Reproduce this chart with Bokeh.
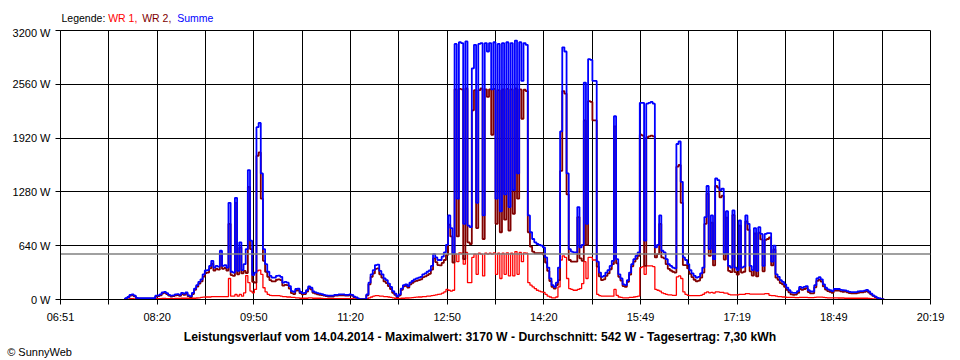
from bokeh.plotting import figure
from bokeh.layouts import column
from bokeh.models import Range1d, FixedTicker, CustomJSTickFormatter, Span, Title
from bokeh.core.properties import value
from bokeh.embed import file_html
from bokeh.resources import INLINE

# ---- data -----------------------------------------------------------
# sampling grid: every 2 minutes starting 07:50 (minutes since midnight)
t_start = 470
t_step = 2

# WR 1 (W)
wr1 = [
    0, 5, 5, 10, 10, 8, 5, 5, 5, 5,                      # 07:50
    5, 5, 5, 5, 5, 10, 10, 10, 12, 12,                   # 08:10
    10, 10, 10, 10, 12, 12, 12, 15, 15, 15,              # 08:30
    12, 12, 15, 15, 18, 20, 25, 28, 30, 30,              # 08:50
    30, 35, 35, 35, 35, 35, 35, 35, 35, 250,             # 09:10
    40, 40, 60, 40, 60, 40, 80, 285, 200, 100,           # 09:30
    80, 120, 340, 350, 300, 140, 90, 60, 50, 45,         # 09:50
    45, 45, 45, 40, 35, 35, 30, 30, 25, 25,              # 10:10
    20, 20, 15, 15, 15, 15, 20, 20, 15, 15,              # 10:30
    15, 15, 12, 10, 10, 10, 10, 10, 10, 10,              # 10:50
    10, 10, 10, 10, 10, 10, 10, 8, 5, 3,                 # 11:10
    2, 2, 2, 10, 20, 30, 40, 45, 45, 40,                 # 11:30
    40, 35, 35, 30, 25, 20, 15, 10, 10, 15,              # 11:50
    15, 18, 18, 20, 22, 25, 28, 30, 30, 35,              # 12:10
    35, 40, 40, 45, 50, 55, 60, 65, 75, 90,              # 12:30
    120, 110, 100, 110, 540, 450, 555, 550, 420, 560,    # 12:50
    200, 200, 500, 540, 300, 550, 540, 280, 550, 540,    # 13:10
    550, 540, 555, 300, 550, 250, 550, 300, 555, 280,    # 13:30
    550, 280, 570, 300, 560, 450, 555, 550, 200, 170,    # 13:50
    150, 130, 110, 100, 90, 85, 60, 40, 30, 20,          # 14:10
    20, 30, 150, 470, 520, 500, 250, 130, 120, 110,      # 14:30
    110, 120, 130, 190, 450, 250, 500, 500, 470, 470,    # 14:50
    60, 45, 40, 40, 40, 40, 40, 40, 120, 50,             # 15:10
    30, 25, 20, 20, 20, 25, 25, 30, 35, 40,              # 15:30
    380, 390, 300, 400, 400, 400, 390, 120, 110, 100,    # 15:50
    80, 70, 60, 55, 55, 50, 50, 270, 280, 250,           # 16:10
    90, 60, 50, 45, 45, 45, 45, 45, 50, 60,              # 16:30
    80, 90, 80, 85, 75, 90, 90, 85, 85, 75,              # 16:50
    75, 60, 55, 55, 55, 55, 60, 60, 60, 70,              # 17:10
    70, 65, 65, 65, 65, 65, 65, 65, 70, 70,              # 17:30
    50, 45, 45, 40, 35, 35, 30, 30, 25, 25,              # 17:50
    25, 25, 22, 22, 25, 25, 25, 25, 22, 22,              # 18:10
    22, 25, 28, 28, 28, 25, 22, 20, 20, 20,              # 18:30
    20, 20, 18, 18, 18, 15, 15, 15, 15, 15,              # 18:50
    15, 15, 15, 15, 15, 15, 12, 10, 8, 6,                # 19:10
    4, 3, 2, 0,                                          # 19:30
]

# WR 2 (W)
wr2 = [
    0, 10, 25, 45, 50, 37, 15, 10, 10, 10,                         # 07:50
    10, 10, 10, 10, 10, 35, 40, 50, 73, 78,                        # 08:10
    65, 45, 35, 40, 48, 53, 43, 65, 55, 70,                        # 08:30
    38, 28, 65, 115, 152, 190, 215, 272, 315, 320,                 # 08:50
    370, 425, 345, 365, 355, 545, 365, 375, 345, 900,              # 09:10
    290, 280, 1150, 300, 620, 310, 340, 315, 1340, 600,            # 09:30
    210, 200, 1710, 1750, 1200, 460, 330, 270, 230, 215,           # 09:50
    215, 235, 240, 230, 165, 175, 170, 130, 75, 65,                # 10:10
    105, 110, 75, 60, 65, 95, 135, 120, 80, 70,                    # 10:30
    60, 55, 53, 45, 40, 35, 35, 35, 45, 45,                        # 10:50
    50, 50, 50, 45, 45, 50, 45, 27, 20, 7,                         # 11:10
    3, 3, 3, 50, 180, 270, 310, 365, 370, 300,                     # 11:30
    260, 215, 195, 160, 125, 80, 55, 30, 50, 115,                  # 11:50
    155, 162, 142, 180, 198, 215, 222, 230, 240, 265,              # 12:10
    275, 290, 305, 355, 490, 445, 410, 405, 435, 470,              # 12:30
    530, 890, 750, 440, 2500, 750, 2505, 2500, 480, 2510,          # 12:50
    680, 660, 2250, 2490, 850, 2490, 2510, 720, 2500, 2410,        # 13:10
    2500, 1960, 2505, 900, 2490, 800, 2500, 950, 2505, 820,        # 13:30
    2500, 1020, 2510, 1200, 2500, 2150, 2495, 2480, 800, 630,      # 13:50
    570, 550, 550, 550, 550, 535, 440, 340, 220, 150,              # 14:10
    130, 170, 230, 1530, 2480, 2450, 1250, 470, 450, 450,          # 14:30
    450, 980, 490, 460, 2130, 650, 2360, 2350, 2130, 2130,         # 14:50
    390, 275, 230, 240, 280, 310, 360, 420, 2060, 430,             # 15:10
    270, 225, 160, 150, 210, 295, 395, 450, 485, 520,              # 15:30
    1960, 1950, 400, 1930, 1940, 1950, 1940, 500, 540, 900,        # 15:50
    500, 490, 420, 365, 345, 330, 320, 1580, 1600, 1150,           # 16:10
    410, 410, 370, 305, 265, 235, 215, 225, 260, 320,              # 16:30
    900, 1260, 520, 915, 405, 1350, 1330, 1215, 1235, 475,         # 16:50
    975, 340, 325, 1005, 325, 295, 880, 320, 330, 930,             # 17:10
    830, 335, 285, 785, 275, 795, 715, 335, 710, 720,              # 17:30
    740, 405, 595, 260, 235, 195, 180, 150, 115, 85,               # 17:50
    60, 55, 58, 78, 125, 115, 125, 135, 88, 73,                    # 18:10
    73, 145, 222, 237, 212, 155, 118, 100, 90, 80,                 # 18:30
    105, 105, 107, 97, 92, 93, 85, 75, 73, 73,                     # 18:50
    73, 80, 85, 85, 90, 100, 83, 60, 42, 29,                       # 19:10
    16, 9, 3, 0,                                                   # 19:30
]

times = [t_start + i * t_step for i in range(len(wr1))]
summe = [a + b for a, b in zip(wr1, wr2)]

average_w = 542

x_start, x_end = 411, 1219          # 06:51 .. 20:19
n_grid = 18
x_labels = ["06:51", "", "08:20", "", "09:50", "", "11:20", "", "12:50", "",
            "14:20", "", "15:49", "", "17:19", "", "18:49", "", "20:19"]
y_ticks = [0, 640, 1280, 1920, 2560, 3200]

legend_texts = ["Legende:", "WR 1,", "WR 2,", "Summe"]
legend_colors = ["black", "#ff0000", "#800000", "#0000ff"]

title_text = ("Leistungsverlauf vom 14.04.2014 - Maximalwert: 3170 W - "
              "Durchschnitt: 542 W - Tagesertrag: 7,30 kWh")
credit_text = "\u00a9 SunnyWeb"

FONT = "Liberation Sans"
W = 960
B_LEFT, B_RIGHT = 60, 30

# ---- legend strip (top) ----------------------------------------------
top_h = 26
top = figure(width=W, height=top_h, output_backend="svg", toolbar_location=None,
             x_range=Range1d(B_LEFT, W - B_RIGHT), y_range=Range1d(0, top_h),
             x_axis_type=None, y_axis_type=None, title=None,
             min_border_left=B_LEFT, min_border_right=B_RIGHT,
             min_border_top=0, min_border_bottom=0)
top.outline_line_color = None
top.background_fill_color = "white"
top.border_fill_color = "white"
top.xgrid.visible = False
top.ygrid.visible = False
top.text(x=[61.0, 107.7, 141.7, 176.7], y=[top_h - 17] * 4, text=legend_texts,
         text_color=legend_colors, text_font=value(FONT), text_font_size=value("10.5px"),
         text_align="left", text_baseline="middle")

# ---- main chart -------------------------------------------------------
x_ticks = [x_start + i * (x_end - x_start) / n_grid for i in range(n_grid + 1)]
main_h = 360 - top_h
p = figure(width=W, height=main_h, output_backend="svg", toolbar_location=None,
           x_range=Range1d(x_start, x_end), y_range=Range1d(0, 3200),
           min_border_left=B_LEFT, min_border_right=B_RIGHT, min_border_top=4,
           min_border_bottom=61, title=None)
p.background_fill_color = "white"
p.border_fill_color = "white"
p.outline_line_color = "black"
p.outline_line_width = 1

p.xaxis.ticker = FixedTicker(ticks=x_ticks)
p.yaxis.ticker = FixedTicker(ticks=y_ticks)
p.xaxis.formatter = CustomJSTickFormatter(args=dict(tick_pos=x_ticks, tick_txt=x_labels), code="""
let best = 0;
for (let i = 0; i < tick_pos.length; i++) {
  if (Math.abs(tick_pos[i] - tick) < Math.abs(tick_pos[best] - tick)) best = i;
}
return tick_txt[best];
""")
p.yaxis.formatter = CustomJSTickFormatter(code="return tick.toFixed(0) + ' W';")

for ax in (p.xaxis, p.yaxis):
    ax.axis_line_color = "black"
    ax.axis_line_width = 1
    ax.major_tick_line_color = "black"
    ax.major_tick_out = 5
    ax.major_tick_in = 0
    ax.minor_tick_line_color = None
    ax.major_label_text_font = FONT
    ax.major_label_text_font_size = "11px"
    ax.major_label_text_color = "black"
p.xaxis.major_label_standoff = 6
p.yaxis.major_label_standoff = 5

for g in (p.xgrid, p.ygrid):
    g.grid_line_color = "black"
    g.grid_line_width = 1
    g.grid_line_alpha = 1.0

avg = Span(location=average_w, dimension="width", line_color="#808080",
           line_width=1.5, level="glyph")
p.add_layout(avg)

p.step(times, wr1, mode="center", line_color="#ff0000", line_width=1.3)
p.step(times, wr2, mode="center", line_color="#800000", line_width=1.8)
p.step(times, summe, mode="center", line_color="#0000ff", line_width=1.8)

# ---- bottom texts -----------------------------------------------------
p.add_layout(Title(text=title_text, align="left", offset=123.3, standoff=4,
                   text_font=FONT, text_font_size="12.2px", text_font_style="bold",
                   text_color="black"), "below")
p.add_layout(Title(text=credit_text, align="left", offset=-53.3, standoff=-3,
                   text_font=FONT, text_font_size="11px", text_font_style="normal",
                   text_color="black"), "below")

layout = column(top, p, spacing=0)
open("out.html", "w").write(file_html(layout, INLINE))
